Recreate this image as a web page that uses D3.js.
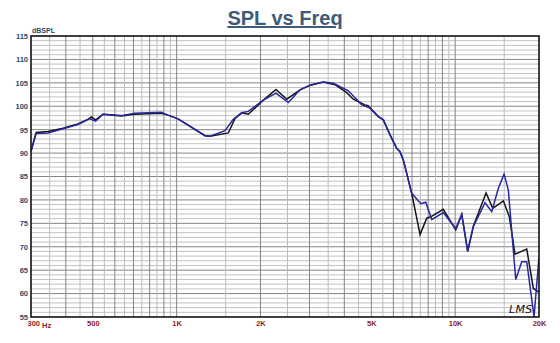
<!DOCTYPE html>
<html><head><meta charset="utf-8">
<script src="https://cdn.jsdelivr.net/npm/d3@7"></script>
<style>body{margin:0;background:#fff}svg{display:block}</style>
</head><body>
<script>
// ---- data ----
const freqBlack = [300,313,345,391,442,480,494,512,544,633,707,881,931,1012,1265,1318,1533,1621,1712,1809,2048,2274,2485,2774,3013,3364,3705,4080,4309,4746,4866,5298,5523,5836,6168,6340,6516,6983,7482,7906,8172,9066,10048,10560,11094,11620,12910,13646,14898,15651,16407,18074,19089,20000];
const splBlack  = [90.4,94.4,94.6,95.3,96.2,97.2,97.7,97.1,98.3,97.9,98.3,98.5,98.1,97.3,93.7,93.6,94.3,97.4,98.6,98.3,101.3,103.6,101.5,103.5,104.5,105.2,104.6,102.9,101.5,100.3,100.1,97.8,97.1,93.9,91.0,90.3,88.5,81.4,72.6,76.1,76.4,78.0,73.6,76.9,69.0,74.4,81.5,78.2,79.8,76.4,68.4,69.5,61.1,60.3];
const freqBlue  = [300,313,345,391,442,487,494,512,544,633,707,881,931,1012,1265,1318,1492,1598,1712,1809,2048,2274,2518,2774,3013,3364,3654,4135,4309,4620,4948,5298,5523,5836,6168,6340,6516,6983,7177,7525,7842,8241,9066,10048,10560,11094,11620,12804,13532,14292,14983,15522,16503,17340,18074,19200,20000];
const splBlue   = [90.4,94.2,94.3,95.2,96.1,97.3,97.2,96.8,98.3,98.0,98.5,98.7,98.1,97.3,93.7,93.6,94.8,97.2,98.6,98.9,101.3,102.8,100.8,103.5,104.5,105.2,104.9,103.3,102.2,100.3,99.6,97.8,97.1,93.9,91.0,90.3,88.5,81.4,80.6,79.2,79.5,75.8,77.3,73.9,76.9,69.0,74.3,79.4,77.5,82.5,85.5,82.1,63.0,66.8,66.8,55.1,67.8];
const xTickValues = [300,500,1000,2000,5000,10000,20000];
const xTickLabels = ["300","500","1K","2K","5K","10K","20K"];
const yTickValues = [55,60,65,70,75,80,85,90,95,100,105,110,115];
const yTickLabels = ["55","60","65","70","75","80","85","90","95","100","105","110","115"];
const titleText = "SPL vs Freq";
const yUnit = "dBSPL";
const xUnit = "Hz";

// ---- layout ----
const W = 560, H = 343;
const L = 31, R = 539, T = 36, B = 317;
const FONT = "'Liberation Sans', Arial, sans-serif";
const svg = d3.select("body").append("svg").attr("width", W).attr("height", H);
const x = d3.scaleLog().domain([300, 20000]).range([L, R]);
const y = d3.scaleLinear().domain([55, 115]).range([B, T]);

// grid - horizontal
const g = svg.append("g");
d3.range(56, 115, 1).forEach(v => {
  g.append("line").attr("x1", L).attr("x2", R).attr("y1", y(v)).attr("y2", y(v))
   .attr("stroke", v % 5 === 0 ? "#858585" : "#c2c2c2").attr("stroke-width", 1);
});
// grid - vertical
const vMinor = [], vMajor = [];
for (let f = 350; f < 1000; f += 50) (f % 100 === 0 ? vMajor : vMinor).push(f);
vMajor.push(1000); vMinor.push(1500);
for (let f = 2000; f < 10000; f += 500) (f % 1000 === 0 ? vMajor : vMinor).push(f);
vMajor.push(10000); vMinor.push(15000);
vMinor.forEach(f => g.append("line").attr("x1", x(f)).attr("x2", x(f)).attr("y1", T).attr("y2", B).attr("stroke", "#bcbcbc"));
vMajor.forEach(f => g.append("line").attr("x1", x(f)).attr("x2", x(f)).attr("y1", T).attr("y2", B).attr("stroke", "#858585"));

// curves
const line = d3.line().x(d => x(d[0])).y(d => y(d[1]));
svg.append("clipPath").attr("id","c").append("rect").attr("x",L).attr("y",T).attr("width",R-L).attr("height",B-T);
svg.append("path").datum(d3.zip(freqBlack, splBlack)).attr("d", line)
  .attr("fill","none").attr("stroke","#151515").attr("stroke-width",1.5).attr("clip-path","url(#c)");
svg.append("path").datum(d3.zip(freqBlue, splBlue)).attr("d", line)
  .attr("fill","none").attr("stroke","#2727a3").attr("stroke-width",1.5).attr("clip-path","url(#c)");

// frame
svg.append("rect").attr("x", L).attr("y", T).attr("width", R - L).attr("height", B - T)
  .attr("fill","none").attr("stroke","#111").attr("stroke-width",1.6);

// axes
const yAx = svg.append("g").attr("transform", `translate(${L - 3},0)`)
  .call(d3.axisLeft(y).tickValues(yTickValues).tickSize(0).tickPadding(0)
    .tickFormat((d, i) => yTickLabels[i]));
yAx.select(".domain").remove();
yAx.selectAll("text").attr("font-family", FONT)
  .attr("font-size", 7.5).attr("font-weight","bold").attr("fill","#2e4a6c");

const xAx = svg.append("g").attr("transform", `translate(0,${B + 4})`)
  .call(d3.axisBottom(x).tickValues(xTickValues).tickSize(0).tickPadding(0)
    .tickFormat((d, i) => xTickLabels[i]));
xAx.select(".domain").remove();
xAx.selectAll("text").attr("font-family", FONT)
  .attr("font-size", 7.5).attr("font-weight","bold").attr("fill","#8e2424");
xAx.selectAll(".tick").filter(d => d === 300).select("text").attr("text-anchor","start").attr("x", -4);

svg.append("text").attr("x", 42).attr("y", B + 11)
  .attr("font-family", FONT).attr("font-size",7.5)
  .attr("font-weight","bold").attr("fill","#8e2424").text(xUnit);

svg.append("text").attr("x", L + 1).attr("y", T - 3)
  .attr("font-family", FONT).attr("font-size",7)
  .attr("font-weight","bold").attr("fill","#2e4a6c").text(yUnit);

// title
svg.append("text").attr("x", 285).attr("y", 25).attr("text-anchor","middle")
  .attr("font-family", FONT).attr("font-size",20)
  .attr("font-weight","bold").attr("fill","#3e5b7a").attr("text-decoration","underline")
  .text(titleText);

// logo
svg.append("text").attr("x", 509).attr("y", 313)
  .attr("font-family","'DejaVu Sans', sans-serif").attr("font-style","italic")
  .attr("font-size", 11).attr("fill","#111").attr("letter-spacing", 0.3).text("LMS");
</script>
</body></html>
